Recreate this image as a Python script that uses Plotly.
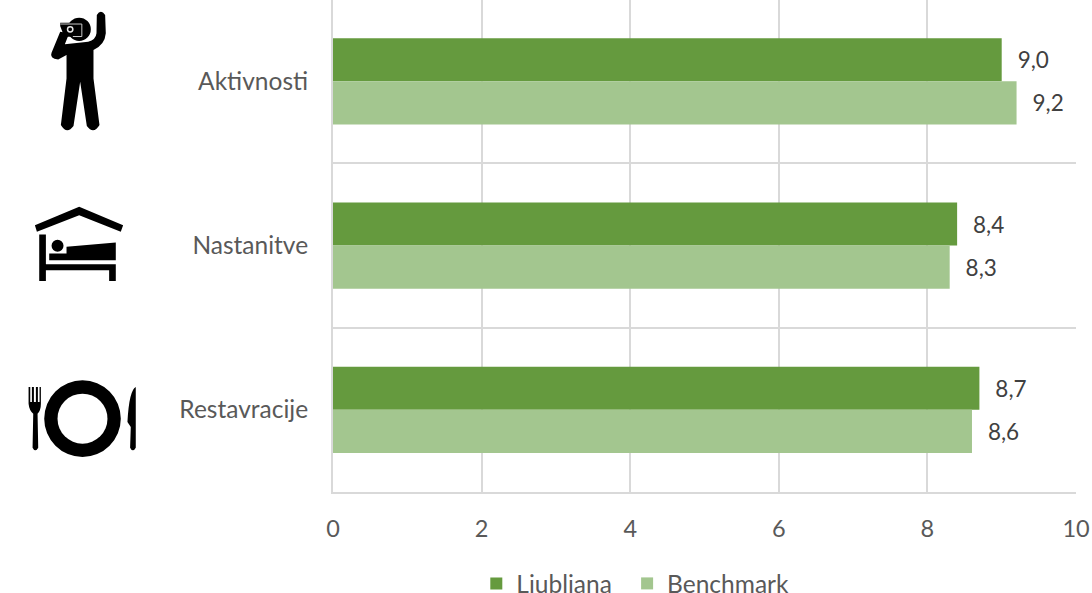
import plotly.graph_objects as go

categories = ["Aktivnosti", "Nastanitve", "Restavracije"]
ljubljana = [9.0, 8.4, 8.7]
benchmark = [9.2, 8.3, 8.6]
x_ticks = [0, 2, 4, 6, 8, 10]

W, H = 1092, 593
L, R, T, B = 332.5, 1076.5, 0, 491.6
FONT = "Lato"
TXT = "#595959"
GRID = "#d9d9d9"

fig = go.Figure()
for name, vals, col, leg in [("Ljubljana", ljubljana, "#659a3e", "legend"),
                             ("Benchmark", benchmark, "#a3c68f", "legend2")]:
    fig.add_bar(y=categories, x=vals, name=name, orientation="h", marker=dict(color=col, line_width=0),
                texttemplate="\u00a0\u00a0\u200a%{x:.1f}", textposition="outside", cliponaxis=False,
                textfont=dict(size=22.5, color="#404040", family=FONT), legend=leg)

def px(x): return (x - L) / (R - L)
def py(y): return (B - y) / (B - T)

def path(cmds, ox=0, oy=0, fill="black"):
    out = []
    for c in cmds:
        if isinstance(c, str):
            out.append(c)
        else:
            pts = [f"{px(ox + c[i] / 3):.5f},{py(oy + c[i + 1] / 3):.5f}" for i in range(0, len(c), 2)]
            out.append(" ".join(pts))
    fig.add_shape(type="path", xref="paper", yref="paper", path=" ".join(out),
                  fillcolor=fill, line_width=0, layer="above")

def circle(cx, cy, r, ox=0, oy=0, fill="black", line=None, lw=0):
    fig.add_shape(type="circle", xref="paper", yref="paper",
                  x0=px(ox + (cx - r) / 3), x1=px(ox + (cx + r) / 3),
                  y0=py(oy + (cy + r) / 3), y1=py(oy + (cy - r) / 3),
                  fillcolor=fill, line=dict(color=line or fill, width=lw), layer="above")

# person with camera
path(["M", (288, 45), "Q", (300, 25, 313, 45), "L", (315, 100), "Q", (312, 135, 278, 150),
      "L", (278, 235), "L", (296, 375), "Q", (278, 405, 258, 378), "L", (238, 245),
      "L", (218, 378), "Q", (198, 405, 180, 375), "L", (197, 235), "L", (197, 165),
      "L", (172, 178), "Q", (145, 175, 152, 158), "L", (178, 95), "L", (205, 100), "L", (192, 133),
      "L", (262, 125), "Q", (285, 120, 287, 100), "Z"])
circle(235, 88, 35)
path(["M", (178, 68), "L", (243, 68), "L", (243, 110), "L", (190, 110), "L", (178, 78), "Z"])
fig.add_shape(type="path", xref="paper", yref="paper", layer="above", line=dict(color="#c8c8c8", width=1),
              path=f"M {px(59.5)},{py(24)} L {px(81)},{py(24)} L {px(81)},{py(36.5)} L {px(72)},{py(36.5)}")
circle(208, 88, 8, fill="rgba(0,0,0,0)", line="#e8e8e8", lw=1.5)

# bed under a roof
oy = 190
path(["M", (102, 105), "L", (235, 50), "L", (367, 105), "L", (360, 125), "L", (235, 75), "L", (108, 125), "Z"], oy=oy)
path(["M", (115, 133), "L", (135, 133), "L", (135, 222), "L", (345, 222), "L", (345, 272), "L", (325, 272),
      "L", (325, 240), "L", (135, 240), "L", (135, 272), "L", (115, 272), "Z"], oy=oy)
circle(170, 167, 18, oy=oy)
path(["M", (197, 170), "L", (345, 157), "L", (345, 210), "L", (145, 210), "L", (145, 190), "L", (197, 190), "Z"], oy=oy)

# plate, fork, knife
oy = 360
circle(245, 175, 115, oy=oy)
circle(245, 175, 75, oy=oy, fill="white")
path(["M", (83, 80), "L", (83, 130), "Q", (85, 150, 97, 160), "L", (95, 262), "Q", (103, 278, 112, 262),
      "L", (110, 160), "Q", (120, 150, 120, 130), "L", (120, 80), "L", (116, 80), "L", (116, 125),
      "L", (111, 125), "L", (111, 80), "L", (105, 80), "L", (105, 125), "L", (99, 125), "L", (99, 80),
      "L", (93, 80), "L", (93, 125), "L", (88, 125), "L", (88, 80), "Z"], oy=oy)
path(["M", (405, 80), "Q", (385, 90, 380, 185), "L", (390, 200), "L", (388, 262), "Q", (396, 278, 405, 262), "Z"], oy=oy)

legend_style = dict(orientation="h", xanchor="left", yanchor="middle", y=py(583),
                    font=dict(size=24.5, color=TXT, family=FONT), itemclick=False,
                    bgcolor="rgba(0,0,0,0)")

fig.update_layout(
    width=W, height=H, autosize=False,
    margin=dict(l=L, r=W - R, t=T, b=H - B, pad=0, autoexpand=False),
    paper_bgcolor="white", plot_bgcolor="white",
    separators=", ",
    barmode="group", bargap=0.475, bargroupgap=0,
    font=dict(family=FONT, size=23.5, color=TXT),
    showlegend=True,
    legend=dict(x=px(476), **legend_style),
    legend2=dict(x=px(627), **legend_style),
    xaxis=dict(range=[0, 10], tickmode="array", tickvals=x_ticks, showgrid=True, gridcolor=GRID, gridwidth=2,
               zeroline=False, showline=True, linecolor=GRID, linewidth=2, ticks="outside", ticklen=15,
               tickcolor="rgba(0,0,0,0)", tickfont=dict(size=23.5, color=TXT, family=FONT)),
    yaxis=dict(range=[2.5, -0.495], type="category", tickson="boundaries", showgrid=True, gridcolor=GRID, gridwidth=2,
               zeroline=False, showline=True, linecolor=GRID, linewidth=2, ticks="", ticklabelstandoff=18,
               tickfont=dict(size=24.5, color=TXT, family=FONT)),
)
fig.write_html("out.html", config=dict(displayModeBar=False),
               post_script="document.body.style.margin='0';document.body.style.overflow='hidden';")
